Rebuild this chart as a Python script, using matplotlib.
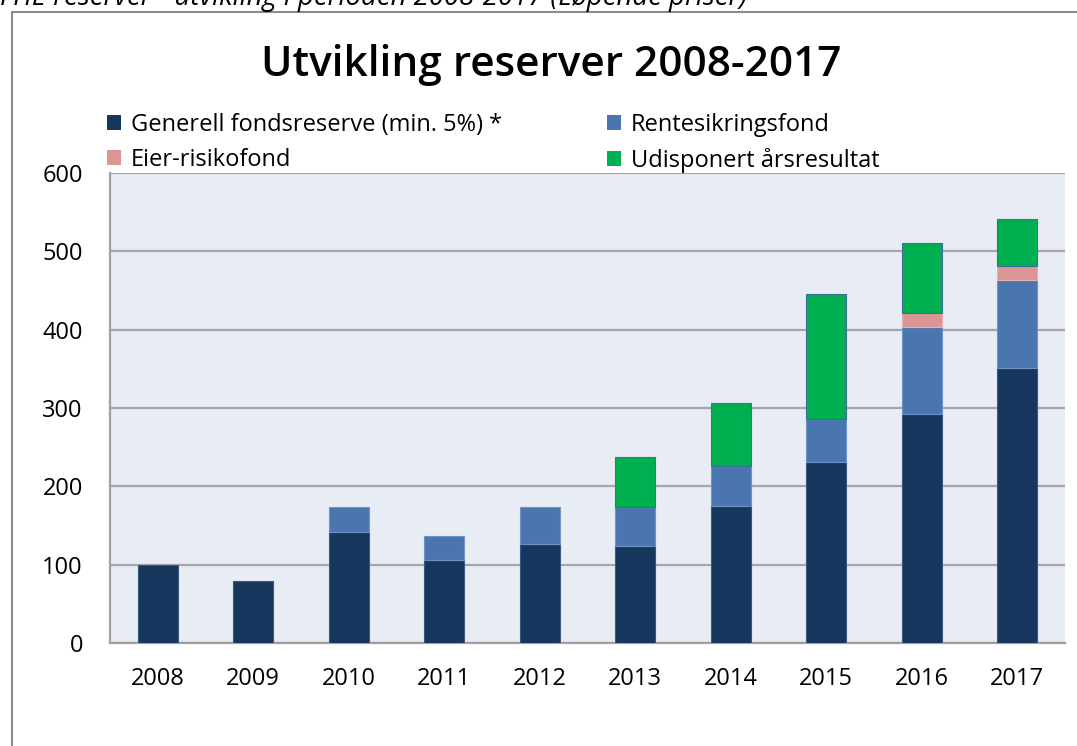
import matplotlib
matplotlib.use("Agg")
import matplotlib.pyplot as plt
import matplotlib.patches as mpatches
import numpy as np

plt.rcParams['font.family'] = ['Open Sans', 'DejaVu Sans']

years = ['2008', '2009', '2010', '2011', '2012', '2013', '2014', '2015', '2016', '2017']
generell = [100, 79, 142, 106, 126, 124, 175, 231, 292, 351]
rente = [0, 0, 31, 30, 47, 49, 51, 55, 111, 112]
eier = [0, 0, 0, 0, 0, 0, 0, 0, 18, 18]
udisponert = [0, 0, 0, 0, 0, 64, 80, 159, 89, 60]

series = [
    ('Generell fondsreserve (min. 5%) *', generell, '#17375E', '#3A5A85'),
    ('Rentesikringsfond', rente, '#4A76AF', '#6F93C2'),
    ('Eier-risikofond', eier, '#D99694', '#E5B3B1'),
    ('Udisponert årsresultat', udisponert, '#00AF4F', '#3D6E9E'),
]
yticks = [0, 100, 200, 300, 400, 500, 600]
title = 'Utvikling reserver 2008-2017'
caption = 'FHE reserver - utvikling i perioden 2008-2017 (Løpende priser)'

W, H = 1077, 746
fig = plt.figure(figsize=(W / 100, H / 100), dpi=100)
fig.patch.set_facecolor('white')

# chart border
fig.patches.append(mpatches.Rectangle((12 / W, -0.1), 1.2, 1.1 - 12 / H,
                                      transform=fig.transFigure, fill=False,
                                      edgecolor='#8C8C8C', linewidth=1.5))

ax = fig.add_axes([110 / W, 1 - 643 / H, (1065 - 110) / W, (643 - 173) / H])
ax.set_facecolor('#E8ECF4')

x = np.arange(len(years))
bottom = np.zeros(len(years))
handles = []
for name, vals, col, edge in series:
    vals = np.array(vals, dtype=float)
    lw = [0.8 if v > 0 else 0 for v in vals]
    ax.bar(x, vals, width=0.42, bottom=bottom, color=col, edgecolor=edge,
           linewidth=lw, zorder=3)
    bottom += vals
    handles.append(mpatches.Patch(facecolor=col, edgecolor='none', label=name))

ax.set_xlim(-0.5, len(years) - 0.5)
ax.set_ylim(0, 600)
ax.set_yticks(yticks)
ax.set_yticklabels([str(t) for t in yticks], fontsize=17)
ax.set_xticks(x)
ax.set_xticklabels(years, fontsize=17)
ax.tick_params(axis='both', length=0, colors='#000000')
ax.tick_params(axis='y', pad=19.5)
ax.tick_params(axis='x', pad=17)
ax.grid(axis='y', color='#A6A6A6', linewidth=1.6, zorder=1)
ax.set_axisbelow(True)
for s in ['top', 'right']:
    ax.spines[s].set_visible(False)
for s in ['left', 'bottom']:
    ax.spines[s].set_color('#A0A0A0')
    ax.spines[s].set_linewidth(1.6)

fig.text(551 / W, 1 - 65 / H, title, fontsize=30.5, ha='center', va='center',
         fontweight='semibold', color='#000000')

fig.text(0, 1 - 5 / H, caption, fontsize=19.8, style='italic', ha='left',
         va='baseline', color='#000000')

legkw = dict(frameon=False, handlelength=0.6, handleheight=0.6,
             handletextpad=0.4, labelspacing=0.45, borderpad=0, borderaxespad=0,
             loc='upper left', prop={'size': 17})
fig.legend(handles=[handles[0], handles[2]], bbox_to_anchor=(107 / W, 1 - 113 / H), **legkw)
fig.legend(handles=[handles[1], handles[3]], bbox_to_anchor=(607 / W, 1 - 113 / H), **legkw)

fig.savefig('out.png', dpi=100)
